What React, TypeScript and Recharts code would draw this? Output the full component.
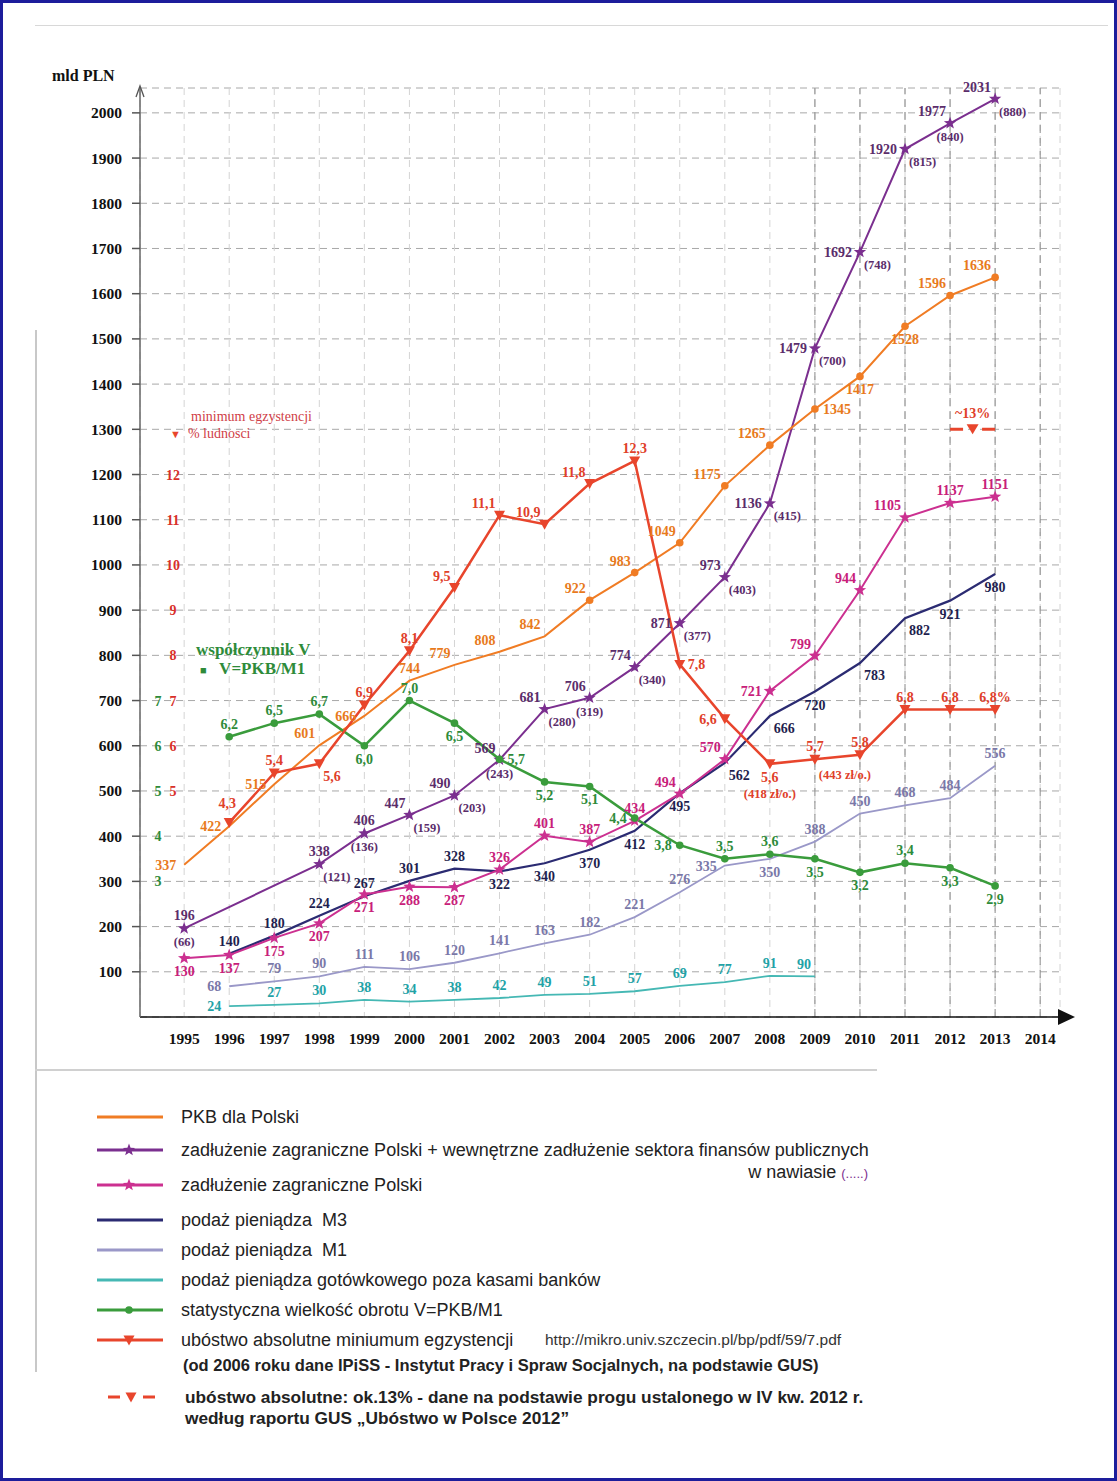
import React from "react";
import {
  LineChart,
  Line,
  XAxis,
  YAxis,
  CartesianGrid,
  ReferenceLine,
  ReferenceDot,
} from "recharts";

const years = [1995, 1996, 1997, 1998, 1999, 2000, 2001, 2002, 2003, 2004, 2005, 2006, 2007, 2008, 2009, 2010, 2011, 2012, 2013, 2014];
const pkb = [337, 422, 515, 601, 666, 744, 779, 808, 842, 922, 983, 1049, 1175, 1265, 1345, 1417, 1528, 1596, 1636, null];
const totalDebt = [196, null, null, 338, 406, 447, 490, 569, 681, 706, 774, 871, 973, 1136, 1479, 1692, 1920, 1977, 2031, null];
const totalDebtParen = [66, null, null, 121, 136, 159, 203, 243, 280, 319, 340, 377, 403, 415, 700, 748, 815, 840, 880, null];
const foreignDebt = [130, 137, 175, 207, 271, 288, 287, 326, 401, 387, 434, 494, 570, 721, 799, 944, 1105, 1137, 1151, null];
const m3 = [null, 140, 180, 224, 267, 301, 328, 322, 340, 370, 412, 495, 562, 666, 720, 783, 882, 921, 980, null];
const m1 = [null, 68, 79, 90, 111, 106, 120, 141, 163, 182, 221, 276, 335, 350, 388, 450, 468, 484, 556, null];
const cash = [null, 24, 27, 30, 38, 34, 38, 42, 49, 51, 57, 69, 77, 91, 90, null, null, null, null, null];
const velocity = [null, 6.2, 6.5, 6.7, 6.0, 7.0, 6.5, 5.7, 5.2, 5.1, 4.4, 3.8, 3.5, 3.6, 3.5, 3.2, 3.4, 3.3, 2.9, null];
const poverty = [null, 4.3, 5.4, 5.6, 6.9, 8.1, 9.5, 11.1, 10.9, 11.8, 12.3, 7.8, 6.6, 5.6, 5.7, 5.8, 6.8, 6.8, 6.8, null];
const povertyNotes = [null, null, null, null, null, null, null, null, null, null, null, null, null, "(418 zł/o.)", "(443 zł/o.)", null, null, null, null, null];
const poverty2012 = 13;

const yTicks = [100, 200, 300, 400, 500, 600, 700, 800, 900, 1000, 1100, 1200, 1300, 1400, 1500, 1600, 1700, 1800, 1900, 2000];
const velocityTicks = [3, 4, 5, 6, 7];
const povertyTicks = [5, 6, 7, 8, 9, 10, 11, 12];

// label placement per point (index aligned with years)
const pkbPlace = "l l l tl l t tl tl tl tl tl tl tl tl r b b tl tl -".split(" ");
const totalPlace = "t - - t t tl tl tl tl tl tl l tl l l l l tl tl -".split(" ");
const totalParenPlace = "b - - br b br br b br b br br br br br br br b br -".split(" ");
const foreignPlace = "b b b b b b b t t t t tl tl l tl tl tl t t -".split(" ");
const m3Place = "- t t t t t t b b b b b br br b br br b b -".split(" ");
const m1Place = "- l t t t t t t t t t t l b t t t t t -".split(" ");
const cashPlace = "- l t t t t t t t t t t t t tl - - - - -".split(" ");
const vPlace = "- t t t b t b r b b l l t t b b t b b -".split(" ");
const povPlace = "- tt t br t t tl tl tl tl t r l b t t t t t -".split(" ");

const data = years.map((year, i) => ({
  year,
  pkb: pkb[i],
  totalDebt: totalDebt[i],
  foreignDebt: foreignDebt[i],
  m3: m3[i],
  m1: m1[i],
  cash: cash[i],
  velocity: velocity[i],
  poverty: poverty[i],
}));

const Y_TOP = 2055;
const X_MIN = 1994.02;
const X_MAX = 2014.44;

const SERIF = "'Liberation Serif', 'Times New Roman', serif";
const SANS = "'Liberation Sans', Arial, sans-serif";

const C = {
  pkb: "#f07c24",
  total: "#7b2f8f",
  foreign: "#cc3090",
  m3: "#2b2b72",
  m1: "#9a98c8",
  cash: "#45b8b4",
  v: "#3a9c3c",
  pov: "#e8452c",
};

const OFF: Record<string, [number, number, "start" | "middle" | "end"]> = {
  t: [0, -8, "middle"],
  tt: [-2, -15, "middle"],
  tl: [-4, -7, "end"],
  tr: [4, -7, "start"],
  b: [0, 18, "middle"],
  bl: [-4, 17, "end"],
  br: [4, 17, "start"],
  l: [-8, 5, "end"],
  r: [8, 5, "start"],
};

const comma = (v: number) => v.toFixed(1).replace(".", ",");

function starPoints(cx: number, cy: number, r: number) {
  const pts: string[] = [];
  for (let i = 0; i < 10; i++) {
    const a = -Math.PI / 2 + (i * Math.PI) / 5;
    const rr = i % 2 === 0 ? r : r * 0.42;
    pts.push(`${cx + rr * Math.cos(a)},${cy + rr * Math.sin(a)}`);
  }
  return pts.join(" ");
}

function marker(kind: string, cx: number, cy: number, color: string) {
  if (kind === "star") return <polygon points={starPoints(cx, cy, 6.5)} fill={color} />;
  if (kind === "dot") return <circle cx={cx} cy={cy} r={3.8} fill={color} />;
  if (kind === "tri")
    return <polygon points={`${cx - 5.5},${cy - 4.5} ${cx + 5.5},${cy - 4.5} ${cx},${cy + 5.5}`} fill={color} />;
  return null;
}

function labelText(x: number, y: number, anchor: string, color: string, text: string, size = 14) {
  return (
    <text x={x} y={y} textAnchor={anchor as any} fill={color} fontSize={size} fontWeight={700} fontFamily={SERIF}>
      {text}
    </text>
  );
}

function makeDot(
  id: string,
  values: (number | null)[],
  places: string[],
  kind: string,
  color: string,
  labelColor: string,
  fmt: (v: number, i: number) => string,
  extra?: (cx: number, cy: number, i: number) => React.ReactNode,
  markFrom = 0
) {
  return (props: any) => {
    const { cx, cy, index } = props;
    const key = `${id}-${index}`;
    const v = values[index];
    if (v == null || cx == null || cy == null || Number.isNaN(cy)) return <g key={key} />;
    const p = OFF[places[index]];
    return (
      <g key={key}>
        {index >= markFrom && marker(kind, cx, cy, color)}
        {p && labelText(cx + p[0], cy + p[1], p[2], labelColor, fmt(v, index))}
        {extra && extra(cx, cy, index)}
      </g>
    );
  };
}

const pkbDot = makeDot("pkb", pkb, pkbPlace, "dot", C.pkb, "#e87a1c", (v) => String(v), undefined, 9);
const totalDot = makeDot("total", totalDebt, totalPlace, "star", C.total, "#5b2d6b", (v) => String(v), (cx, cy, i) => {
  const p = OFF[totalParenPlace[i]];
  if (!p || totalDebtParen[i] == null) return null;
  return labelText(cx + p[0], cy + p[1], p[2], "#5b2d6b", `(${totalDebtParen[i]})`, 12.5);
});
const foreignDot = makeDot("foreign", foreignDebt, foreignPlace, "star", C.foreign, "#c8207a", (v) => String(v));
const m3Dot = makeDot("m3", m3, m3Place, "none", C.m3, "#1f1f4f", (v) => String(v));
const m1Dot = makeDot("m1", m1, m1Place, "none", C.m1, "#7a78a8", (v) => String(v));
const cashDot = makeDot("cash", cash, cashPlace, "none", C.cash, "#22a2a6", (v) => String(v));
const vDot = makeDot("v", velocity, vPlace, "dot", C.v, "#2e8b3a", (v) => comma(v));
const povDot = makeDot(
  "pov",
  poverty,
  povPlace,
  "tri",
  C.pov,
  "#e0402a",
  (v, i) => comma(v) + (i === 18 ? "%" : ""),
  (cx, cy, i) => {
    const note = povertyNotes[i];
    if (!note) return null;
    if (i === 13) return labelText(cx, cy + 34, "middle", "#e0402a", note, 12.5);
    return labelText(cx + 30, cy + 20, "middle", "#e0402a", note, 12.5);
  }
);

const TriShape = (props: any) => {
  const { cx, cy } = props;
  return (
    <g>
      <polygon points={`${cx - 6},${cy - 5} ${cx + 6},${cy - 5} ${cx},${cy + 5}`} fill={C.pov} />
      {labelText(cx, cy - 11, "middle", "#e0402a", "~13%", 14)}
    </g>
  );
};

const XArrow = (props: any) => {
  const { cx, cy } = props;
  return <polygon points={`${cx - 2},${cy - 8} ${cx + 15},${cy} ${cx - 2},${cy + 8}`} fill="#111" />;
};

const YArrow = (props: any) => {
  const { cx, cy } = props;
  return <path d={`M${cx - 4},${cy + 9} L${cx},${cy - 2} L${cx + 4},${cy + 9}`} stroke="#555" strokeWidth={1.3} fill="none" />;
};

// secondary scale tick labels (V and % of population) drawn inside the plot
const sideTick = (dx: number, color: string, t: number) => (props: any) => {
  const { cx, cy } = props;
  return (
    <text x={cx + dx} y={cy + 5} textAnchor="middle" fill={color} fontSize={14} fontWeight={700} fontFamily={SERIF}>
      {t}
    </text>
  );
};

const legendRows = [
  { y: 1117, label: "PKB dla Polski", color: C.pkb, kind: "none" },
  { y: 1150, label: "zadłużenie zagraniczne Polski + wewnętrzne zadłużenie sektora finansów publicznych", color: C.total, kind: "star" },
  { y: 1185, label: "zadłużenie zagraniczne Polski", color: C.foreign, kind: "star" },
  { y: 1220, label: "podaż pieniądza  M3", color: C.m3, kind: "none" },
  { y: 1250, label: "podaż pieniądza  M1", color: C.m1, kind: "none" },
  { y: 1280, label: "podaż pieniądza gotówkowego poza kasami banków", color: C.cash, kind: "none" },
  { y: 1310, label: "statystyczna wielkość obrotu V=PKB/M1", color: C.v, kind: "dot" },
  { y: 1340, label: "ubóstwo absolutne miniumum egzystencji", color: C.pov, kind: "tri" },
];

function LegendIcon({ y, color, kind, dashed }: { y: number; color: string; kind: string; dashed?: boolean }) {
  return (
    <svg width={70} height={20} style={{ position: "absolute", left: 95, top: y - 10 }}>
      {dashed ? (
        <line x1={13} y1={10} x2={60} y2={10} stroke={color} strokeWidth={3} strokeDasharray="12 23" />
      ) : (
        <line x1={2} y1={10} x2={68} y2={10} stroke={color} strokeWidth={3} />
      )}
      {kind !== "none" && marker(kind, dashed ? 36 : 34, 10, color)}
    </svg>
  );
}

const abs = (left: number, top: number, extra: React.CSSProperties = {}): React.CSSProperties => ({
  position: "absolute",
  left,
  top,
  whiteSpace: "pre",
  ...extra,
});

export default function App() {
  return (
    <div style={{ position: "absolute", left: 0, top: 0, width: 1117, height: 1481, background: "#fff", overflow: "hidden" }}>
      {/* page frame lines */}
      <div style={abs(35, 25, { width: 1073, height: 1, background: "#d8d8d8" })} />
      <div style={abs(35, 330, { width: 2, height: 1042, background: "#c8c8c8" })} />
      <div style={abs(35, 1069, { width: 842, height: 2, background: "#d0d0d0" })} />

      <div style={abs(0, 0)}>
        <LineChart width={1100} height={1060} data={data} margin={{ top: 88, right: 40, bottom: 13, left: 0 }}>
          <CartesianGrid vertical={false} stroke="#a8a8a8" strokeDasharray="7 5" />
          <CartesianGrid horizontal={false} stroke="#d4d4d4" strokeDasharray="7 5" />
          <XAxis
            dataKey="year"
            type="number"
            domain={[X_MIN, X_MAX]}
            ticks={years}
            allowDataOverflow
            height={30}
            tickLine={false}
            tickSize={0}
            tickMargin={16}
            axisLine={{ stroke: "#111", strokeWidth: 1.5 }}
            tick={{ fill: "#111", fontSize: 15.5, fontWeight: 700, fontFamily: SERIF }}
          />
          <YAxis
            domain={[0, Y_TOP]}
            ticks={yTicks}
            width={140}
            tickSize={8}
            tickMargin={10}
            axisLine={{ stroke: "#666", strokeWidth: 1.5 }}
            tickLine={{ stroke: "#555", strokeWidth: 1.5 }}
            tick={{ fill: "#111", fontSize: 15.5, fontWeight: 700, fontFamily: SERIF }}
          />
          <YAxis yAxisId="v" domain={[0, Y_TOP / 100]} hide />
          <YAxis yAxisId="p" domain={[0, Y_TOP / 100]} hide />
          {[2009, 2010, 2011, 2012, 2013, 2014].map((y) => (
            <ReferenceLine key={y} x={y} stroke="#8a8a8a" strokeDasharray="8 5" />
          ))}
          {velocityTicks.map((t) => (
            <ReferenceDot key={`vt${t}`} yAxisId="v" x={X_MIN} y={t} r={1} shape={sideTick(18, "#2e8b3a", t)} ifOverflow="visible" />
          ))}
          {povertyTicks.map((t) => (
            <ReferenceDot key={`pt${t}`} yAxisId="p" x={X_MIN} y={t} r={1} shape={sideTick(33, "#d8302a", t)} ifOverflow="visible" />
          ))}

          <Line dataKey="m1" stroke={C.m1} strokeWidth={1.8} dot={m1Dot} activeDot={false} isAnimationActive={false} />
          <Line dataKey="cash" stroke={C.cash} strokeWidth={1.8} dot={cashDot} activeDot={false} isAnimationActive={false} />
          <Line dataKey="m3" stroke={C.m3} strokeWidth={2.2} dot={m3Dot} activeDot={false} isAnimationActive={false} />
          <Line dataKey="foreignDebt" stroke={C.foreign} strokeWidth={2} dot={foreignDot} activeDot={false} isAnimationActive={false} />
          <Line dataKey="totalDebt" stroke={C.total} strokeWidth={2} connectNulls dot={totalDot} activeDot={false} isAnimationActive={false} />
          <Line dataKey="pkb" stroke={C.pkb} strokeWidth={2} dot={pkbDot} activeDot={false} isAnimationActive={false} />
          <Line yAxisId="v" dataKey="velocity" stroke={C.v} strokeWidth={2.5} dot={vDot} activeDot={false} isAnimationActive={false} />
          <Line yAxisId="p" dataKey="poverty" stroke={C.pov} strokeWidth={2.5} dot={povDot} activeDot={false} isAnimationActive={false} />

          <ReferenceLine
            yAxisId="p"
            segment={[{ x: 2012, y: poverty2012 }, { x: 2013, y: poverty2012 }]}
            stroke={C.pov}
            strokeWidth={3}
            strokeDasharray="13 19"
          />
          <ReferenceDot yAxisId="p" x={2012.5} y={poverty2012} r={6} shape={TriShape} ifOverflow="visible" />
          <ReferenceDot x={X_MAX} y={0} r={8} shape={XArrow} ifOverflow="visible" />
          <ReferenceDot x={X_MIN} y={Y_TOP} r={8} shape={YArrow} ifOverflow="visible" />
        </LineChart>
      </div>

      {/* in-chart annotations */}
      <div style={abs(52, 67, { fontFamily: SERIF, fontWeight: 700, fontSize: 16, color: "#111" })}>mld PLN</div>
      <div style={abs(191, 409, { fontFamily: SERIF, fontSize: 14, color: "#d04048" })}>minimum egzystencji</div>
      <div style={abs(170, 426, { fontFamily: SERIF, fontSize: 14, color: "#d04048" })}>
        <span style={{ color: C.pov, fontSize: 11 }}>▼</span>
        {"  % ludnosci"}
      </div>
      <div style={abs(196, 640, { fontFamily: SERIF, fontWeight: 700, fontSize: 17, color: "#2e8b3a" })}>współczynnik V</div>
      <div style={abs(200, 659, { fontFamily: SERIF, fontWeight: 700, fontSize: 17, color: "#2e8b3a" })}>
        <span style={{ fontSize: 11 }}>■</span>
        {"   V=PKB/M1"}
      </div>

      {/* legend */}
      {legendRows.map((r) => (
        <React.Fragment key={r.label}>
          <LegendIcon y={r.y} color={r.color} kind={r.kind} />
          <div style={abs(181, r.y - 11, { fontFamily: SANS, fontSize: 18, lineHeight: "22px", color: "#222" })}>{r.label}</div>
        </React.Fragment>
      ))}
      <div style={abs(0, 1161, { width: 868, textAlign: "right", fontFamily: SANS, fontSize: 18, lineHeight: "22px", color: "#222" })}>
        {"w nawiasie "}
        <span style={{ color: C.total, fontSize: 13 }}>(.....)</span>
      </div>
      <div style={abs(545, 1330, { fontFamily: SANS, fontSize: 15.5, lineHeight: "20px", color: "#333" })}>
        http://mikro.univ.szczecin.pl/bp/pdf/59/7.pdf
      </div>
      <div style={abs(183, 1354, { fontFamily: SANS, fontSize: 16.5, fontWeight: 700, lineHeight: "22px", color: "#222" })}>
        (od 2006 roku dane IPiSS - Instytut Pracy i Spraw Socjalnych, na podstawie GUS)
      </div>
      <LegendIcon y={1397} color={C.pov} kind="tri" dashed />
      <div style={abs(185, 1386, { fontFamily: SANS, fontSize: 17.3, fontWeight: 700, lineHeight: "22px", color: "#222" })}>
        ubóstwo absolutne: ok.13% - dane na podstawie progu ustalonego w IV kw. 2012 r.
      </div>
      <div style={abs(185, 1407, { fontFamily: SANS, fontSize: 17.3, fontWeight: 700, lineHeight: "22px", color: "#222" })}>
        według raportu GUS „Ubóstwo w Polsce 2012”
      </div>

      {/* outer frame */}
      <div style={abs(0, 0, { width: 1117, height: 1481, boxSizing: "border-box", border: "3px solid #1d1d9b", pointerEvents: "none" })} />
    </div>
  );
}
